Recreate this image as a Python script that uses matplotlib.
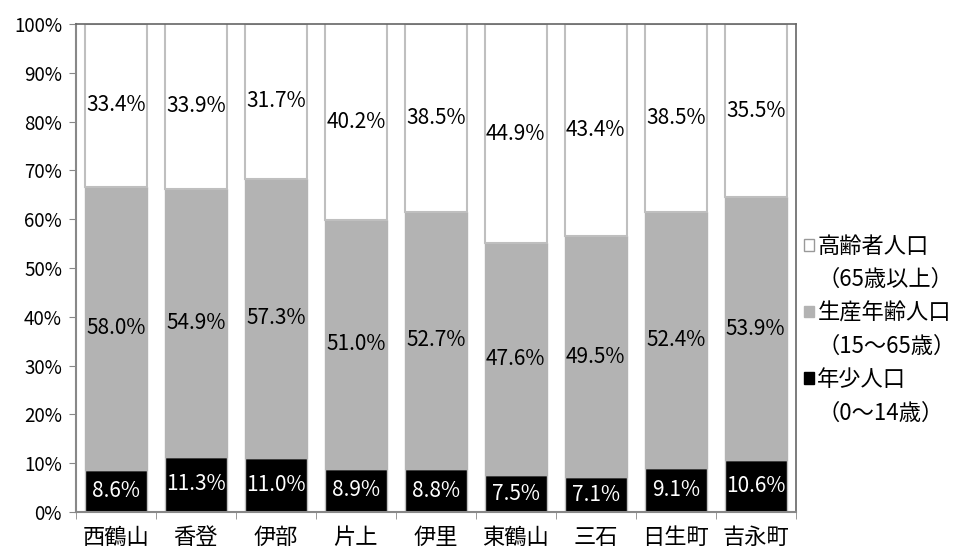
import numpy as np
import matplotlib.pyplot as plt
from matplotlib.patches import Patch

plt.rcParams['font.family'] = ['Noto Sans CJK JP', 'DejaVu Sans']

areas = ['西鶴山', '香登', '伊部', '片上', '伊里', '東鶴山', '三石', '日生町', '吉永町']
young = [8.6, 11.3, 11.0, 8.9, 8.8, 7.5, 7.1, 9.1, 10.6]      # 年少人口
working = [58.0, 54.9, 57.3, 51.0, 52.7, 47.6, 49.5, 52.4, 53.9]  # 生産年齢人口
elderly = [33.4, 33.9, 31.7, 40.2, 38.5, 44.9, 43.4, 38.5, 35.5]  # 高齢者人口

young = np.array(young)
working = np.array(working)
elderly = np.array(elderly)
x = np.arange(len(areas))
w = 0.775
edge = '#bfbfbf'
grey = '#b3b3b3'

fig = plt.figure(figsize=(9.61, 5.54), dpi=100)
ax = fig.add_axes([0.079, 0.0758, 0.749, 0.881])

b1 = ax.bar(x, young, w, color='black', edgecolor=edge, linewidth=1)
b2 = ax.bar(x, working, w, bottom=young, color=grey, edgecolor=grey, linewidth=1)
b3 = ax.bar(x, elderly, w, bottom=young + working, color='white', edgecolor=edge, linewidth=1.5)

for i in range(len(areas)):
    ax.text(x[i], young[i] / 2, f'{young[i]:.1f}%', ha='center', va='center',
            color='white', fontsize=15)
    ax.text(x[i], young[i] + working[i] / 2, f'{working[i]:.1f}%', ha='center',
            va='center', color='black', fontsize=15)
    ax.text(x[i], young[i] + working[i] + elderly[i] / 2, f'{elderly[i]:.1f}%',
            ha='center', va='center', color='black', fontsize=15)

ax.set_xlim(-0.5, len(areas) - 0.5)
ax.set_ylim(0, 100)
ax.set_yticks(np.arange(0, 101, 10))
ax.set_yticklabels([f'{v}%' for v in range(0, 101, 10)], fontsize=13.5)
ax.set_xticks(x)
ax.set_xticklabels(areas, fontsize=16)
ax.set_xticks(np.arange(-0.5, len(areas), 1), minor=True)
ax.tick_params(axis='x', which='major', length=0, pad=10)
ax.tick_params(axis='x', which='minor', length=5, color='#888888')
ax.tick_params(axis='y', length=5, color='#888888', pad=5)

for s in ['left', 'bottom']:
    ax.spines[s].set_color('#888888')
    ax.spines[s].set_linewidth(1.5)
for s in ['top', 'right']:
    ax.spines[s].set_color('#666666')
    ax.spines[s].set_linewidth(1.2)

# legend: each entry has a second line with no marker
blank = Patch(facecolor='none', edgecolor='none')
handles = [Patch(facecolor='white', edgecolor='#999999'), blank,
           Patch(facecolor=grey, edgecolor=grey), blank,
           Patch(facecolor='black', edgecolor='black'), blank]
labels = ['高齢者人口', '（65歳以上）', '生産年齢人口', '（15～65歳）', '年少人口', '（0～14歳）']
fig.legend(handles, labels, loc='center left', bbox_to_anchor=(0.825, 0.405),
           frameon=False, fontsize=16, handlelength=0.45, handleheight=0.45,
           handletextpad=0.15, labelspacing=0.47, borderpad=0)

fig.savefig('out.png', dpi=100)
